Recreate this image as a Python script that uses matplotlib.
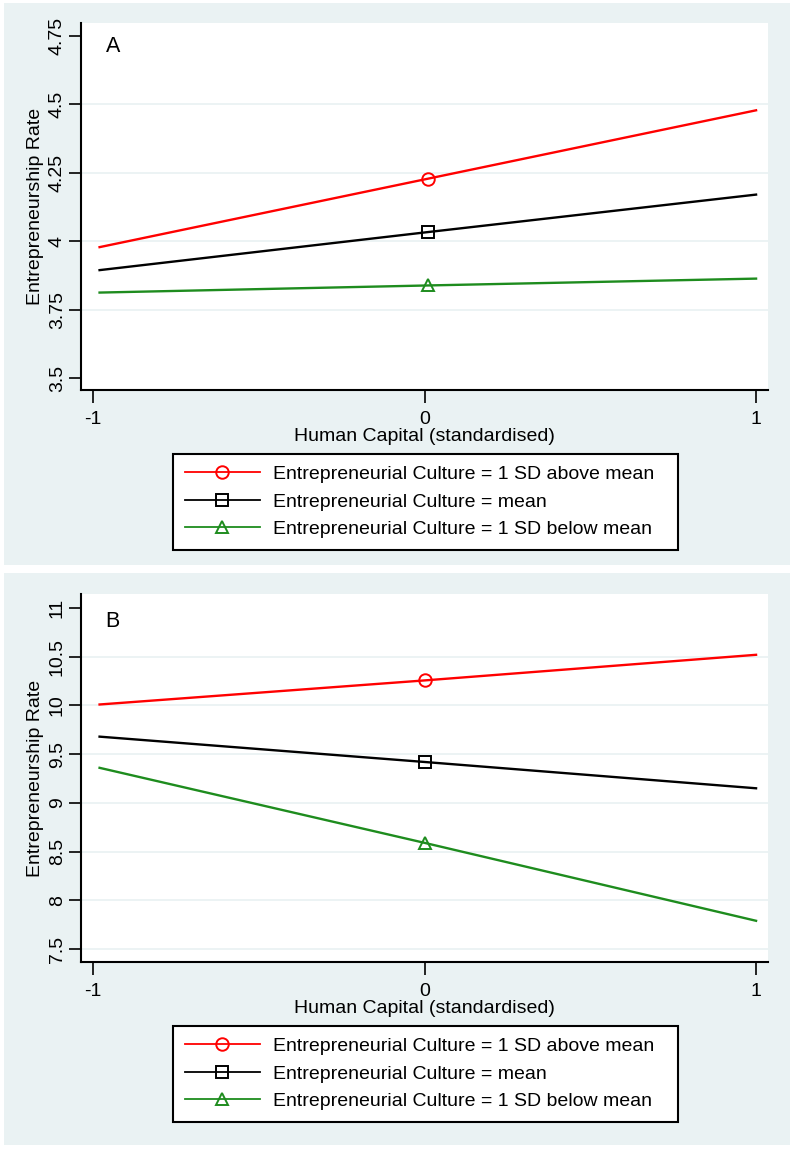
import matplotlib.pyplot as plt
from matplotlib.patches import Rectangle
from matplotlib.lines import Line2D

plt.rcParams['font.family'] = ['Liberation Sans', 'DejaVu Sans']

# values
hc_a = [-0.98, 0.01, 1.0]
above_a = [3.978, 4.228, 4.478]
mean_a = [3.894, 4.033, 4.170]
below_a = [3.812, 3.838, 3.863]

hc_b = [-0.98, 0.0, 1.0]
above_b = [10.01, 10.257, 10.52]
mean_b = [9.68, 9.42, 9.15]
below_b = [9.36, 8.59, 7.79]

yticks_a = [3.5, 3.75, 4, 4.25, 4.5, 4.75]
ytick_labels_a = ['3.5', '3.75', '4', '4.25', '4.5', '4.75']
grid_a = [3.75, 4, 4.25, 4.5]
yticks_b = [7.5, 8, 8.5, 9, 9.5, 10, 10.5, 11]
ytick_labels_b = ['7.5', '8', '8.5', '9', '9.5', '10', '10.5', '11']
grid_b = [7.5, 8, 8.5, 9, 9.5, 10, 10.5]
xticks = [-1, 0, 1]

legend_labels = ['Entrepreneurial Culture = 1 SD above mean',
                 'Entrepreneurial Culture = mean',
                 'Entrepreneurial Culture = 1 SD below mean']

bg = '#EAF2F3'
red = '#FF0000'
green = '#1E8C1E'

W, H = 794, 1155
fig = plt.figure(figsize=(W / 100, H / 100), dpi=100)
fig.patch.set_facecolor('white')


def px_box(x0, y0, x1, y1):
    # pixel box (from top-left) -> figure fraction rect
    return [x0 / W, 1 - y1 / H, (x1 - x0) / W, (y1 - y0) / H]


def panel(bg_box, ax_box, leg_box, hc, series, yticks, ylabels, grid, ylim, letter, letter_y):
    b = px_box(*bg_box)
    fig.patches.append(Rectangle((b[0], b[1]), b[2], b[3], transform=fig.transFigure,
                                 facecolor=bg, edgecolor='none', zorder=-10))
    ax = fig.add_axes(px_box(*ax_box))
    ax.set_zorder(5)
    ax.set_facecolor('white')
    for g in grid:
        ax.axhline(g, color=bg, lw=1.3, zorder=1)
    for ys, c, m in zip(series, [red, 'black', green], ['o', 's', '^']):
        ax.plot(hc, ys, color=c, lw=1.7, zorder=3)
        ax.plot(hc[1], ys[1], marker=m, ms=9, mfc='none', mec=c, mew=1.4, ls='none', zorder=4)
    ax.set_xlim(-1.036, 1.036)
    ax.set_ylim(*ylim)
    ax.set_yticks(yticks)
    ax.set_yticklabels(ylabels, rotation=90, va='center')
    ax.set_xticks(xticks)
    ax.set_xticklabels(['-1', '0', '1'])
    ax.tick_params(labelsize=14, length=9, width=1.2, direction='out')
    ax.tick_params(axis='x', pad=6)
    ax.tick_params(axis='y', pad=2)
    for s in ['top', 'right']:
        ax.spines[s].set_visible(False)
    for s in ['left', 'bottom']:
        ax.spines[s].set_linewidth(1.5)
    ax.set_ylabel('Entrepreneurship Rate', fontsize=14)
    ax.yaxis.set_label_coords(-0.054, 0.5)
    ax.set_xlabel('Human Capital (standardised)', fontsize=14, labelpad=0)
    ax.text(-0.94, letter_y, letter, fontsize=15.5, ha='center', va='center')

    handles = [Line2D([], [], color=c, lw=1.3, marker=m, ms=9, mfc='none', mec=c, mew=1.4)
               for c, m in zip([red, 'black', green], ['o', 's', '^'])]
    lb = px_box(*leg_box)
    leg = ax.legend(handles, legend_labels, loc='upper left', mode='expand',
                    bbox_to_anchor=(lb[0], lb[1], lb[2], lb[3]), bbox_transform=fig.transFigure,
                    fontsize=14, frameon=True, fancybox=False, framealpha=1,
                    edgecolor='black', handlelength=3.86, handletextpad=0.67,
                    labelspacing=0.5, borderpad=0.6, borderaxespad=0)
    leg.get_frame().set_linewidth(1.5)
    return ax


panel((4, 3, 790, 565), (81, 23, 768, 390), (173, 454, 678, 547),
      hc_a, [above_a, mean_a, below_a], yticks_a, ytick_labels_a, grid_a, (3.456, 4.797), 'A', 4.71)
panel((4, 573, 790, 1145), (81, 594, 768, 962), (173, 1026, 678, 1119),
      hc_b, [above_b, mean_b, below_b], yticks_b, ytick_labels_b, grid_b, (7.367, 11.144), 'B', 10.86)

fig.savefig('out.png', dpi=100)
